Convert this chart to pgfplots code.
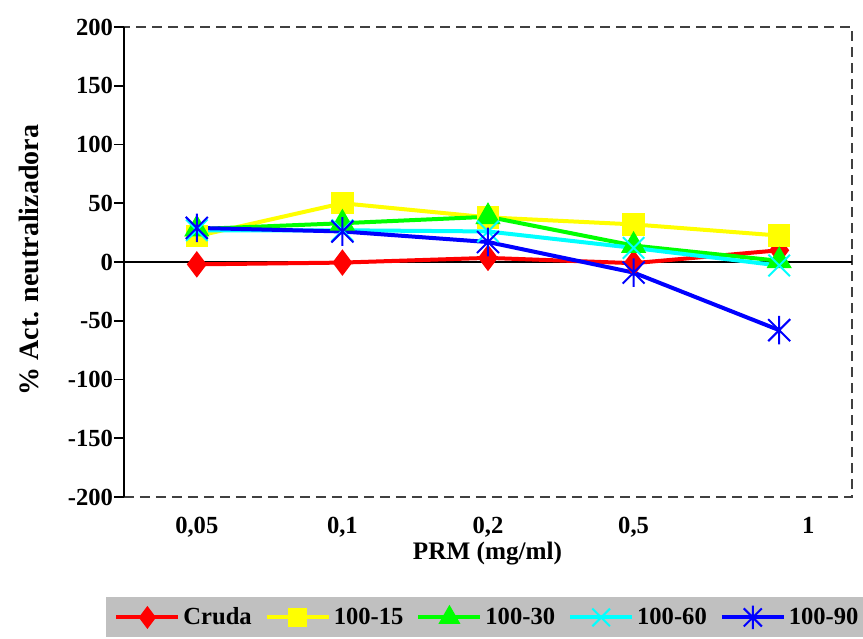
\documentclass[border=0pt]{standalone}
\usepackage{fontspec}
\setmainfont{Liberation Serif}
\usepackage{pgfplots}
\pgfplotsset{compat=1.18}
\definecolor{legbg}{HTML}{C0C0C0}
\definecolor{cRed}{HTML}{FF0000}
\definecolor{cYel}{HTML}{FFFF00}
\definecolor{cGrn}{HTML}{00FF00}
\definecolor{cCya}{HTML}{00FFFF}
\definecolor{cBlu}{HTML}{0000FF}
\pgfdeclareplotmark{xstar}{%
  \pgfpathmoveto{\pgfqpoint{-\pgfplotmarksize}{-\pgfplotmarksize}}%
  \pgfpathlineto{\pgfqpoint{\pgfplotmarksize}{\pgfplotmarksize}}%
  \pgfpathmoveto{\pgfqpoint{-\pgfplotmarksize}{\pgfplotmarksize}}%
  \pgfpathlineto{\pgfqpoint{\pgfplotmarksize}{-\pgfplotmarksize}}%
  \pgfpathmoveto{\pgfpoint{0pt}{-1.3\pgfplotmarksize}}%
  \pgfpathlineto{\pgfpoint{0pt}{1.3\pgfplotmarksize}}%
  \pgfusepathqstroke}
\newcommand{\lbl}{\fontsize{12.3}{14}\selectfont\bfseries}
\begin{document}
\begin{tikzpicture}
\begin{axis}[
  width=364pt, height=235pt, scale only axis,
  xmin=-0.5, xmax=4.5, ymin=-200, ymax=200,
  xtick={0,1,2,3,4.2},
  xticklabels={{0,05},{0,1},{0,2},{0,5},{1}},
  xtick style={draw=none},
  ytick={-200,-150,-100,-50,0,50,100,150,200},
  yticklabels={-200,-150,-100,-50,0,50,100,150,200},
  ytick pos=left, tick align=outside,
  major tick length=5pt,
  ytick style={black, line width=0.8pt},
  axis line style={draw=none},
  tick label style={font=\lbl},
  xticklabel style={anchor=base, yshift=-13pt},
  yticklabel style={xshift=3pt},
  every axis x label/.style={at={(axis description cs:0.4993,-0.121)},anchor=center,font=\fontsize{12.6}{14}\selectfont\bfseries},
  every axis y label/.style={at={(axis description cs:-0.1305,0.504)},rotate=90,anchor=center,font=\fontsize{14}{16}\selectfont\bfseries},
  xlabel={PRM (mg/ml)},
  ylabel={\% Act. neutralizadora},
  legend columns=5,
  legend image code/.code={\draw[mark repeat=2,mark phase=2,#1,/tikz/every mark/.append style={scale=0.82}] plot coordinates {(0pt,0pt) (15.5pt,0pt) (31pt,0pt)};},
  legend style={at={(axis description cs:-0.0247,-0.2128)}, anchor=north west,
    fill=legbg, draw=none, font=\lbl, inner xsep=4pt, inner ysep=2pt,
    nodes={inner xsep=1.5pt, inner ysep=3pt},
    /tikz/every even column/.append style={column sep=5pt}},
  clip=false,
]
\draw[gray!50!black, line width=0.8pt, dash pattern=on 5pt off 3pt] (rel axis cs:0,0) -- (rel axis cs:1,0) -- (rel axis cs:1,1) -- (rel axis cs:0,1);
\draw[black, line width=1pt] (rel axis cs:0,0) -- (rel axis cs:0,1);
\draw[black, line width=1pt] (axis cs:-0.5,0) -- (axis cs:4.5,0);

\addplot[cRed, line width=2pt, mark=diamond*, mark size=5pt, mark options={solid, fill=cRed}] coordinates {(0,-2) (1,-0.5) (2,3.5) (3,-1) (4,10)};
\addlegendentry{Cruda}
\addplot[cYel, line width=2pt, mark=square*, mark size=4.6pt, mark options={solid, fill=cYel}] coordinates {(0,22) (1,50) (2,38) (3,32) (4,22.5)};
\addlegendentry{100-15}
\addplot[cGrn, line width=2pt, mark=triangle*, mark size=5.3pt, mark options={solid, fill=cGrn}] coordinates {(0,28) (1,33) (2,38.5) (3,14) (4,1)};
\addlegendentry{100-30}
\addplot[cCya, line width=2pt, mark=x, mark size=7.6pt, mark options={solid, line width=1pt}] coordinates {(0,27) (1,27) (2,26) (3,12) (4,-3)};
\addlegendentry{100-60}
\addplot[cBlu, line width=2pt, mark=xstar, mark size=5.5pt, mark options={solid, line width=1pt}] coordinates {(0,29) (1,26) (2,17) (3,-9) (4,-58)};
\addlegendentry{100-90}
\end{axis}
\pgfresetboundingbox
\useasboundingbox (-62pt,-70.5pt) rectangle (369.5pt,248.5pt);
\end{tikzpicture}
\end{document}
